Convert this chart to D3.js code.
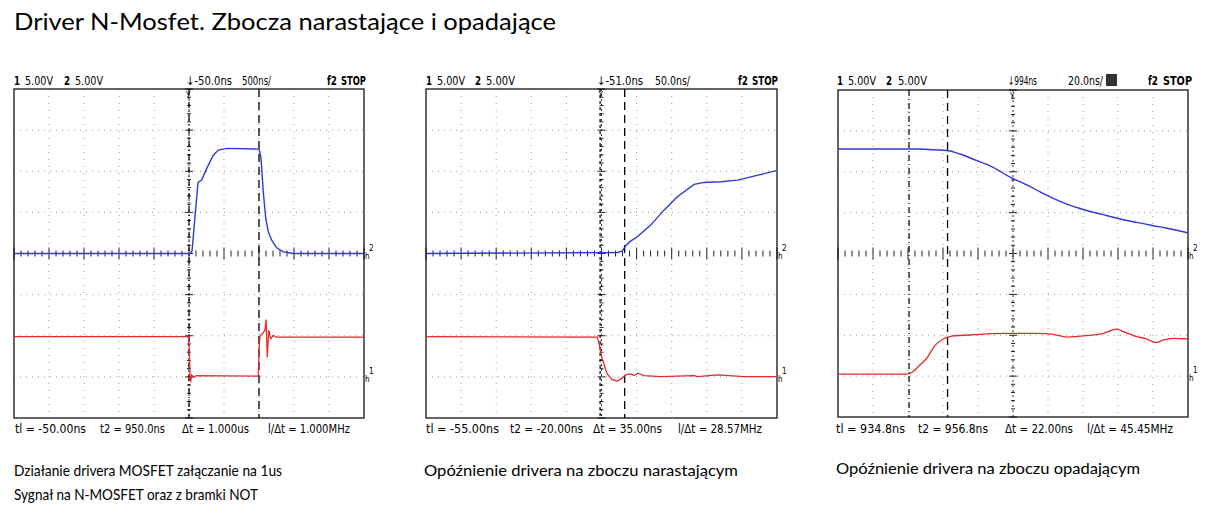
<!DOCTYPE html>
<html><head><meta charset="utf-8">
<script src="https://cdn.jsdelivr.net/npm/d3@7"></script>
<style>body{margin:0;background:#fff;}svg{display:block;}</style>
</head><body>
<svg id="c" width="1208" height="514"></svg>
<script>
// ---------- DATA ----------
const title = "Driver N-Mosfet. Zbocza narastające i opadające";
const captions = [
  ["Działanie drivera MOSFET załączanie na 1us", "Sygnał na N-MOSFET oraz z bramki NOT"],
  ["Opóźnienie drivera na zboczu narastającym"],
  ["Opóźnienie drivera na zboczu opadającym"]
];
const headerVolts = ["5.00V", "5.00V"];
const triggerLabels = ["-50.0ns", "-51.0ns", "994ns"];
const timebaseLabels = ["500ns/", "50.0ns/", "20.0ns/"];
const readoutT1 = ["tl = -50.00ns", "tl = -55.00ns", "tl = 934.8ns"];
const readoutT2 = ["t2 = 950.0ns", "t2 = -20.00ns", "t2 = 956.8ns"];
const readoutDt = ["Δt = 1.000us", "Δt = 35.00ns", "Δt = 22.00ns"];
const readoutF  = ["l/Δt = 1.000MHz", "l/Δt = 28.57MHz", "l/Δt = 45.45MHz"];
// time window (ns) of each screen, 10 divisions
const timeDomains = [[-2550, 2450], [-303, 197], [894.2, 1094.2]];
// cursor times (ns)
const cursorT1 = [-50, -55, 934.8];
const cursorT2 = [950, -20, 956.8];
// vertical: 5 V/div, 8 divisions
const voltDomain = [-20, 20];
const ch1Offset = -15; // channel 1 (red) ground 3 div below centre

// Panel 1 — channel 2 (blue), time ns / volts
const p1BlueT = [-2550, -36, -7, 79, 131, 203, 297, 369, 489, 940, 954, 979, 1011, 1046, 1083, 1131, 1203, 1297, 1440, 2450];
const p1BlueV = [0, 0, 0.3, 8.64, 8.92, 10.35, 11.96, 12.57, 12.78, 12.69, 12.57, 11.56, 7.51, 4.26, 2.64, 1.62, 0.69, 0.2, 0, 0];
// Panel 1 — channel 1 (red)
const p1RedT = [-2550, -60, -46, -36, -26, -11, 11, 60, 940, 950, 964, 997, 1036, 1050, 1069, 1089, 1117, 1154, 1203, 2450];
const p1RedV = [4.9, 4.9, 3.41, 0, -0.65, 0.24, -0.04, 0.16, 0.08, 3.41, 4.95, 5.23, 5.68, 6.97, 2.4, 5.68, 4.62, 5.03, 4.83, 4.83];
// Panel 2
const p2BlueT = [-303, -30.6, -23.4, -18.7, -11.6, -2, 17, 36, 55, 79, 93, 117, 141, 170, 196];
const p2BlueV = [0, 0.12, 0.28, 0.94, 1.5, 2.03, 3.45, 5.27, 6.9, 8.4, 8.64, 8.72, 8.92, 9.53, 10.07];
const p2RedT = [-303, -59.1, -56.9, -52, -44.9, -37.7, -30.6, -24.9, -18.7, -11.6, -6.9, -1.1, 7.4, 31.3, 78.9, 83.7, 112.3, 150.3, 195.6];
const p2RedV = [4.9, 4.83, 4.2, 2.19, 0.37, -0.33, -0.52, -0.24, 0.24, 0.37, 0.16, 0.45, 0.16, 0.04, 0.16, 0.04, 0.24, 0.04, 0.04];
// Panel 3
const p3BlueT = [894.2, 941.1, 948.7, 957.2, 963.9, 973.5, 982.9, 992.5, 1002, 1010, 1017.2, 1025, 1032.5, 1045.8, 1055, 1064.9, 1078.2, 1087.7, 1094.2];
const p3BlueV = [12.78, 12.78, 12.69, 12.57, 12.17, 11.36, 10.55, 9.33, 8.4, 7.5, 6.75, 6.05, 5.5, 4.75, 4.25, 3.8, 3.25, 2.84, 2.51];
const p3RedT = [894.4, 933.5, 936.3, 941.1, 944.9, 949.6, 954.4, 959.2, 969.6, 988.7, 1007.7, 1017.2, 1024.9, 1036.3, 1045.8, 1053.5, 1057.2, 1064.9, 1069.6, 1076.3, 1080.1, 1085.8, 1094.4];
const p3RedV = [0.24, 0.24, 0.45, 1.38, 2.19, 3.73, 4.54, 4.9, 5.03, 5.23, 5.23, 5.11, 4.78, 4.95, 5.23, 5.76, 5.44, 4.83, 4.62, 4.1, 4.42, 4.62, 4.54];

// ---------- LAYOUT ----------
const panels = [
  {x0: 14, x1: 364, y0: 89, y1: 418, blueT: p1BlueT, blueV: p1BlueV, redT: p1RedT, redV: p1RedV, t1Style: "6,3,1,3", t2Style: "8,5", smooth: false},
  {x0: 426, x1: 777, y0: 89, y1: 418, blueT: p2BlueT, blueV: p2BlueV, redT: p2RedT, redV: p2RedV, t1Style: "3,3", t2Style: "8,5", smooth: false},
  {x0: 838, x1: 1188, y0: 90, y1: 417, blueT: p3BlueT, blueV: p3BlueV, redT: p3RedT, redV: p3RedV, t1Style: "6,3,1,3", t2Style: "8,5", smooth: true}
];
const BLUE = "#3038d6", RED = "#e42a2a";
const scopeFont = "'DejaVu Sans Condensed','Liberation Sans Narrow','DejaVu Sans',sans-serif";
const svg = d3.select("#c");

function fitText(g, txt, x, y, w, opts) {
  const t = g.append("text").attr("x", x).attr("y", y).text(txt)
    .attr("font-family", opts.font || scopeFont)
    .attr("font-size", opts.size || 12)
    .attr("font-weight", opts.weight || "normal")
    .attr("fill", opts.fill || "#000");
  if (w) t.attr("textLength", w).attr("lengthAdjust", "spacingAndGlyphs");
  return t;
}

fitText(svg, title, 14, 30, 542, {font: "Lato, 'Open Sans', sans-serif", size: 23});

const headerX = [[14, 25, 64, 75, 186, 242, 327, 341], [426, 437, 475, 486, 597, 655, 738, 752], [837, 848, 886, 898, 1008, 1068, 1148, 1163]];
const headerEnd = [[103, 232, 271, 366], [515, 643, 690, 778], [927, 1037, 1103, 1192]];
const readX = [[15, 100, 182, 268, 86, 165, 249, 350], [426, 510, 593, 678, 499, 583, 662, 762], [836, 918, 1005, 1087, 905, 988, 1073, 1173]];
const capX = [14, 424, 836];
const capW = [[268, 244], [314], [304]];

panels.forEach((p, i) => {
  const g = svg.append("g");
  const x = d3.scaleLinear().domain(timeDomains[i]).range([p.x0, p.x1]);
  const y = d3.scaleLinear().domain(voltDomain).range([p.y1, p.y0]);
  const divX = d3.scaleLinear().domain([0, 10]).range([p.x0, p.x1]);
  const divY = d3.scaleLinear().domain([-4, 4]).range([p.y1, p.y0]);
  const cx = divX(5), cy = divY(0);

  // grid (dotted)
  d3.range(1, 10).filter(d => d !== 5).forEach(d => {
    g.append("line").attr("x1", divX(d)).attr("x2", divX(d)).attr("y1", p.y0).attr("y2", p.y1)
      .attr("stroke", "#9a9a9a").attr("stroke-width", 1).attr("stroke-dasharray", "1,6");
  });
  [-3, -2, -1, 1, 2, 3].forEach(d => {
    g.append("line").attr("x1", p.x0).attr("x2", p.x1).attr("y1", divY(d)).attr("y2", divY(d))
      .attr("stroke", "#9a9a9a").attr("stroke-width", 1).attr("stroke-dasharray", "1,5");
  });
  // centre horizontal ticks
  d3.range(0, 50.01, 1).forEach(k => {
    const xx = divX(k / 5);
    const major = k % 5 === 0;
    g.append("line").attr("x1", xx).attr("x2", xx)
      .attr("y1", cy - (major ? 6 : 3)).attr("y2", cy + (major ? 6 : 3))
      .attr("stroke", "#222").attr("stroke-width", 1);
  });
  // centre vertical ticks (trigger axis)
  g.append("line").attr("x1", cx).attr("x2", cx).attr("y1", p.y0).attr("y2", p.y1)
    .attr("stroke", "#333").attr("stroke-width", 1).attr("stroke-dasharray", "2,3");
  d3.range(0, 40.01, 1).forEach(k => {
    const yy = divY(-4 + k / 5);
    const major = k % 5 === 0;
    g.append("line").attr("x1", cx - (major ? 4 : 2)).attr("x2", cx + (major ? 4 : 2))
      .attr("y1", yy).attr("y2", yy).attr("stroke", "#222").attr("stroke-width", 1);
  });
  // cursors
  g.append("line").attr("x1", x(cursorT1[i])).attr("x2", x(cursorT1[i])).attr("y1", p.y0).attr("y2", p.y1)
    .attr("stroke", "#000").attr("stroke-width", 1.2).attr("stroke-dasharray", p.t1Style);
  g.append("line").attr("x1", x(cursorT2[i])).attr("x2", x(cursorT2[i])).attr("y1", p.y0).attr("y2", p.y1)
    .attr("stroke", "#000").attr("stroke-width", 1.3).attr("stroke-dasharray", p.t2Style);

  // frame
  g.append("rect").attr("x", p.x0).attr("y", p.y0).attr("width", p.x1 - p.x0).attr("height", p.y1 - p.y0)
    .attr("fill", "none").attr("stroke", "#000").attr("stroke-width", 1.2);

  // traces
  const line = d3.line().x(d => x(d[0])).y(d => y(d[1]));
  if (p.smooth) line.curve(d3.curveMonotoneX);
  g.append("path").datum(p.blueT.map((t, k) => [t, p.blueV[k]]))
    .attr("d", line).attr("fill", "none").attr("stroke", BLUE).attr("stroke-width", 1.4);
  g.append("path").datum(p.redT.map((t, k) => [t, p.redV[k] + ch1Offset]))
    .attr("d", line).attr("fill", "none").attr("stroke", RED).attr("stroke-width", 1.3);

  // channel markers on right
  fitText(g, "2", p.x1 + 5, cy - 3, null, {size: 8});
  fitText(g, "h", p.x1 + 1, cy + 5, null, {size: 8});
  fitText(g, "1", p.x1 + 5, y(ch1Offset) - 3, null, {size: 8});
  fitText(g, "h", p.x1 + 1, y(ch1Offset) + 5, null, {size: 8});

  // header
  const hx = headerX[i], he = headerEnd[i];
  fitText(g, "1", hx[0], 85, 6, {size: 13, weight: "bold"});
  fitText(g, headerVolts[0], hx[1], 85, 28, {size: 12});
  fitText(g, "2", hx[2], 85, 6, {size: 13, weight: "bold"});
  fitText(g, headerVolts[1], hx[3], 85, he[0] - hx[3], {size: 12});
  fitText(g, "↓" + triggerLabels[i], hx[4], 85, he[1] - hx[4], {size: 12});
  fitText(g, timebaseLabels[i], hx[5], 85, he[2] - hx[5], {size: 12});
  fitText(g, "f2", hx[6], 85, 10, {size: 13, weight: "bold"});
  fitText(g, "STOP", hx[7], 85, he[3] - hx[7], {size: 13, weight: "bold"});
  if (i === 2) {
    g.append("rect").attr("x", 1106).attr("y", 74).attr("width", 11).attr("height", 12).attr("fill", "#333");
  }
  // trigger marker at top of centre
  fitText(g, "Y", cx - 3, p.y0 + 9, null, {size: 8});

  // readouts
  const rx = readX[i];
  const rb = 433;
  fitText(g, readoutT1[i], rx[0], rb, rx[4] - rx[0], {size: 12});
  fitText(g, readoutT2[i], rx[1], rb, rx[5] - rx[1], {size: 12});
  fitText(g, readoutDt[i], rx[2], rb, rx[6] - rx[2], {size: 12});
  fitText(g, readoutF[i], rx[3], rb, rx[7] - rx[3], {size: 12});

  // captions
  captions[i].forEach((c, k) => {
    fitText(svg, c, capX[i], (i === 2 ? 474 : 476) + k * 24, capW[i][k], {font: "Lato, 'Open Sans', sans-serif", size: 15});
  });
});
</script>
</body></html>
